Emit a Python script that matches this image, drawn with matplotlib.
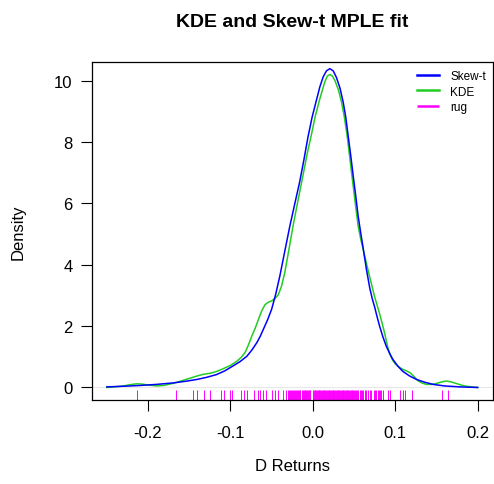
import matplotlib
matplotlib.use("Agg")
import matplotlib.pyplot as plt

plt.rcParams['font.family'] = ['Liberation Sans', 'DejaVu Sans']
plt.rcParams['axes.unicode_minus'] = False

# Skew-t fit
skt_x = [-0.250, -0.230, -0.210, -0.190, -0.169, -0.155, -0.141, -0.129, -0.117,
         -0.107, -0.097, -0.088, -0.080, -0.074, -0.068, -0.064, -0.060, -0.055,
         -0.050, -0.045, -0.040, -0.034, -0.028, -0.022, -0.016, -0.011, -0.006,
         -0.001, 0.0045, 0.0085, 0.0125, 0.0165, 0.0206, 0.0247, 0.0287, 0.033,
         0.0368, 0.040, 0.0428, 0.046, 0.0489, 0.052, 0.0549, 0.058, 0.061, 0.065,
         0.069, 0.072, 0.075, 0.078, 0.081, 0.085, 0.089, 0.093, 0.097, 0.103,
         0.109, 0.117, 0.126, 0.136, 0.146, 0.160, 0.178, 0.200]
skt_y = [0.02, 0.04, 0.065, 0.10, 0.15, 0.20, 0.26, 0.33, 0.42,
         0.54, 0.70, 0.85, 1.02, 1.22, 1.46, 1.66, 1.90, 2.20,
         2.55, 3.05, 3.64, 4.45, 5.25, 5.98, 6.70, 7.40, 8.15,
         8.80, 9.38, 9.80, 10.12, 10.32, 10.39, 10.32, 10.10, 9.75,
         9.30, 8.80, 8.21, 7.55, 6.91, 6.25, 5.60, 5.05, 4.55, 3.85,
         3.25, 2.90, 2.62, 2.30, 2.00, 1.65, 1.35, 1.12, 0.92, 0.70,
         0.53, 0.38, 0.26, 0.17, 0.10, 0.05, 0.02, 0.0]

# kernel density estimate
kde_x = [-0.250, -0.240, -0.230, -0.222, -0.214, -0.207, -0.200, -0.189, -0.180,
         -0.172, -0.165, -0.153, -0.141, -0.133, -0.125, -0.117, -0.109, -0.100,
         -0.092, -0.087, -0.082, -0.078, -0.074, -0.070, -0.066, -0.062, -0.058,
         -0.054, -0.050, -0.046, -0.042, -0.038, -0.034, -0.029, -0.024, -0.018,
         -0.012, -0.007, -0.002, 0.003, 0.0085, 0.0145, 0.0176, 0.0206, 0.0237,
         0.0267, 0.031, 0.0348, 0.038, 0.0416, 0.045, 0.0489, 0.052, 0.0549,
         0.058, 0.061, 0.065, 0.069, 0.072, 0.075, 0.078, 0.081, 0.084, 0.087,
         0.091, 0.094, 0.097, 0.100, 0.103, 0.106, 0.109, 0.113, 0.118, 0.123,
         0.128, 0.133, 0.138, 0.144, 0.150, 0.156, 0.162, 0.168, 0.174, 0.180,
         0.186, 0.193, 0.200]
kde_y = [0.0, 0.02, 0.05, 0.09, 0.12, 0.11, 0.08, 0.05, 0.07,
         0.12, 0.17, 0.27, 0.37, 0.43, 0.46, 0.52, 0.61, 0.72,
         0.86, 0.98, 1.15, 1.40, 1.68, 1.93, 2.22, 2.50, 2.70,
         2.78, 2.82, 2.90, 3.02, 3.30, 3.75, 4.50, 5.27, 6.10,
         6.91, 7.60, 8.21, 8.85, 9.41, 9.96, 10.15, 10.20, 10.15,
         10.01, 9.70, 9.30, 8.85, 8.21, 7.45, 6.58, 5.90, 5.27,
         4.85, 4.50, 4.05, 3.60, 3.28, 2.95, 2.68, 2.40, 2.10, 1.78,
         1.30, 1.05, 0.88, 0.77, 0.70, 0.64, 0.59, 0.55, 0.48, 0.35,
         0.21, 0.14, 0.10, 0.10, 0.13, 0.18, 0.21, 0.18, 0.13, 0.08,
         0.04, 0.02, 0.0]

# observed returns for the rug
rug_x = [-0.213, -0.166, -0.146, -0.140, -0.132, -0.125, -0.112, -0.108, -0.101,
         -0.098, -0.087, -0.083, -0.080, -0.072, -0.067, -0.064, -0.060, -0.057,
         -0.050, -0.046, -0.042, -0.036, -0.033,
         -0.030, -0.029, -0.028, -0.027, -0.025, -0.024, -0.023, -0.022, -0.021,
         -0.019, -0.018, -0.017, -0.016, -0.015, -0.013, -0.012, -0.011, -0.010,
         -0.009, -0.008, -0.007, -0.006, -0.005, -0.004, -0.003, 0.000,
         0.001, 0.002, 0.003, 0.004, 0.005, 0.006, 0.007, 0.008, 0.009, 0.010,
         0.011, 0.012, 0.013, 0.014, 0.015, 0.016, 0.017, 0.018, 0.019, 0.020,
         0.021, 0.022, 0.023, 0.024, 0.025, 0.026, 0.027, 0.028, 0.029, 0.030,
         0.031, 0.032, 0.033, 0.034, 0.035, 0.036, 0.037, 0.038, 0.039, 0.040,
         0.041, 0.042, 0.043, 0.044, 0.045, 0.046, 0.047, 0.048, 0.049, 0.050,
         0.051, 0.052, 0.054, 0.055, 0.057, 0.058, 0.060, 0.061, 0.063, 0.065,
         0.067, 0.069, 0.071, 0.074, 0.075, 0.077, 0.079, 0.080, 0.082, 0.083,
         0.085, 0.091, 0.094, 0.106, 0.109, 0.112, 0.120, 0.157, 0.164]

x_ticks = [-0.2, -0.1, 0.0, 0.1, 0.2]
x_labels = ['-0.2', '-0.1', '0.0', '0.1', '0.2']
y_ticks = [0, 2, 4, 6, 8, 10]

W, H = 494, 485
fig = plt.figure(figsize=(W / 100, H / 100), dpi=100)
L, R, T, B = 92, 492.5, 63, 401
ax = fig.add_axes([L / W, 1 - B / H, (R - L) / W, (B - T) / H])

ax.axhline(0, color='#e8e8e8', lw=0.8, zorder=1)
ax.plot(skt_x, skt_y, color='#0000ff', lw=1.1, label='Skew-t', zorder=3)
ax.plot(kde_x, kde_y, color='#22cc22', lw=1.1, label='KDE', zorder=2)
ax.vlines(rug_x, 0, 0.03, transform=ax.get_xaxis_transform(),
          color='#ff00ff', lw=0.7, label='rug')

ax.set_xlim(-0.268, 0.218)
ax.set_ylim(-0.408, 10.608)
ax.set_xticks(x_ticks)
ax.set_xticklabels(x_labels)
ax.set_yticks(y_ticks)
ax.tick_params(direction='out', length=8, width=0.8, labelsize=12, colors='black')
ax.tick_params(axis='x', pad=10)
ax.tick_params(axis='y', pad=6)
for s in ax.spines.values():
    s.set_linewidth(0.9)

leg = ax.legend(loc='upper left', bbox_to_anchor=(416.7 / W, 1 - 71 / H),
                bbox_transform=fig.transFigure, frameon=False, fontsize=8.5,
                borderpad=0, borderaxespad=0, handlelength=1.9,
                handletextpad=0.95, labelspacing=0.3)
for line in leg.get_lines():
    line.set_linewidth(1.8)

cx = (L + R) / 2 / W
fig.text(cx, 1 - 27 / H, 'KDE and Skew-t MPLE fit', ha='center', va='baseline',
         fontsize=14, fontweight='bold')
fig.text(cx, 1 - 467 / H, 'D Returns', ha='center', va='center', fontsize=12)
fig.text(18 / W, 1 - 232 / H, 'Density', ha='center', va='center',
         rotation=90, fontsize=12)

fig.savefig('out.png', dpi=100)
